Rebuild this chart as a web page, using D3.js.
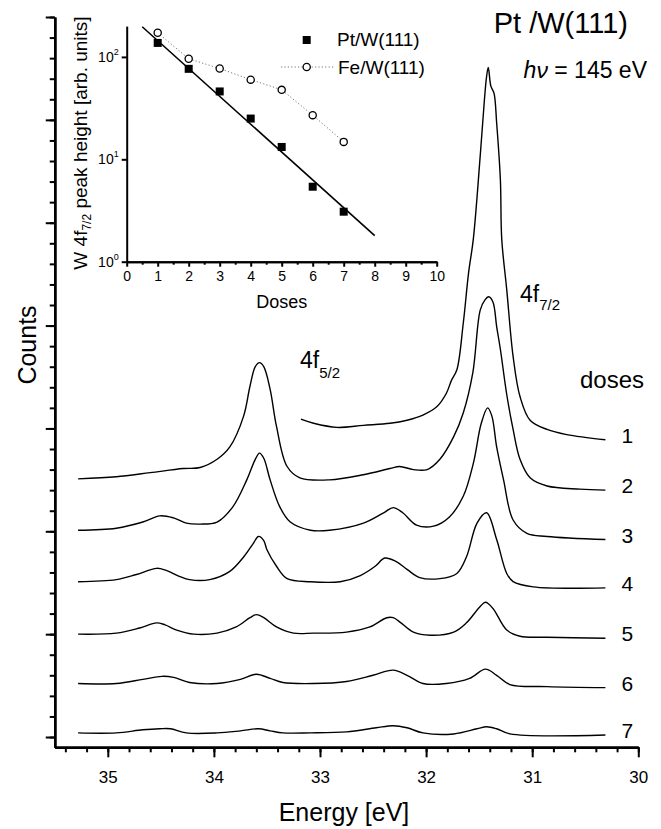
<!DOCTYPE html>
<html>
<head>
<meta charset="utf-8">
<script src="https://cdn.jsdelivr.net/npm/d3@7"></script>
<style>
  body { margin: 0; background: #fff; }
  svg { display: block; font-family: "Liberation Sans", Arial, sans-serif; }
</style>
</head>
<body>
<div id="chart-area"></div>
<script>
// W 4f spectra for Pt doses 1..7, [binding energy eV, counts (offset, arb.)]
const spec1 = [[33.18,3.09],[33.06,3.05],[32.84,3.01],[32.59,3.03],[32.34,3.05],[32.18,3.08],[32.03,3.13],[31.90,3.21],[31.81,3.34],[31.76,3.47],[31.71,3.57],[31.65,4.02],[31.60,4.51],[31.555,4.84],[31.49,5.65],[31.45,6.20],[31.43,6.42],[31.414,6.51],[31.39,6.33],[31.36,6.26],[31.335,5.97],[31.30,5.42],[31.287,4.84],[31.24,4.35],[31.18,3.70],[31.115,3.31],[31.02,3.08],[30.86,2.99],[30.675,2.94],[30.31,2.89]]
const spec2 = [[35.28,2.51],[34.92,2.53],[34.60,2.57],[34.29,2.61],[34.13,2.62],[33.97,2.70],[33.85,2.82],[33.72,3.12],[33.66,3.41],[33.61,3.60],[33.57,3.64],[33.53,3.60],[33.47,3.38],[33.41,3.02],[33.31,2.63],[33.19,2.52],[32.91,2.50],[32.59,2.55],[32.34,2.61],[32.25,2.63],[32.12,2.60],[31.99,2.60],[31.87,2.70],[31.74,2.92],[31.65,3.15],[31.56,3.54],[31.49,4.15],[31.445,4.25],[31.41,4.28],[31.37,4.23],[31.335,3.99],[31.30,3.77],[31.24,3.33],[31.18,2.99],[31.115,2.70],[31.02,2.52],[30.86,2.44],[30.55,2.41],[30.31,2.40]]
const spec3 = [[35.28,2.01],[34.92,2.03],[34.67,2.09],[34.51,2.15],[34.38,2.13],[34.26,2.08],[34.13,2.07],[33.97,2.09],[33.82,2.24],[33.69,2.50],[33.61,2.70],[33.57,2.76],[33.53,2.71],[33.47,2.50],[33.38,2.24],[33.28,2.09],[33.09,2.01],[32.91,2.01],[32.59,2.08],[32.40,2.18],[32.31,2.23],[32.22,2.18],[32.09,2.06],[31.93,2.05],[31.78,2.14],[31.65,2.34],[31.555,2.66],[31.48,3.05],[31.42,3.20],[31.38,3.12],[31.335,2.82],[31.27,2.50],[31.18,2.11],[31.05,1.98],[30.86,1.95],[30.31,1.92]]
const spec4 = [[35.28,1.51],[34.92,1.53],[34.73,1.58],[34.54,1.64],[34.45,1.62],[34.32,1.56],[34.23,1.53],[34.04,1.53],[33.85,1.61],[33.72,1.75],[33.63,1.88],[33.58,1.95],[33.53,1.91],[33.50,1.82],[33.41,1.66],[33.31,1.54],[33.09,1.51],[32.81,1.51],[32.62,1.57],[32.48,1.66],[32.39,1.74],[32.29,1.71],[32.18,1.63],[32.06,1.55],[31.87,1.54],[31.71,1.59],[31.62,1.75],[31.52,2.08],[31.43,2.18],[31.335,1.92],[31.24,1.59],[31.18,1.51],[30.99,1.46],[30.31,1.45]]
const spec5 = [[35.28,1.00],[34.92,1.01],[34.70,1.06],[34.54,1.11],[34.46,1.09],[34.35,1.04],[34.19,1.00],[33.97,1.01],[33.79,1.07],[33.66,1.16],[33.60,1.19],[33.53,1.16],[33.41,1.07],[33.25,1.01],[33.06,1.01],[32.75,1.02],[32.53,1.07],[32.37,1.16],[32.31,1.16],[32.25,1.12],[32.12,1.02],[31.96,0.99],[31.74,1.02],[31.62,1.11],[31.49,1.27],[31.44,1.31],[31.37,1.25],[31.24,1.04],[31.115,0.98],[30.86,0.97],[30.31,0.96]]
const spec6 = [[35.28,0.52],[34.92,0.52],[34.67,0.56],[34.49,0.59],[34.38,0.58],[34.23,0.53],[33.97,0.52],[33.75,0.56],[33.60,0.61],[33.47,0.57],[33.35,0.53],[33.06,0.52],[32.75,0.54],[32.50,0.60],[32.31,0.65],[32.18,0.60],[32.03,0.52],[31.81,0.52],[31.59,0.57],[31.44,0.66],[31.335,0.60],[31.21,0.51],[30.86,0.49],[30.31,0.48]]
const spec7 = [[35.28,0.04],[34.92,0.04],[34.67,0.07],[34.51,0.08],[34.41,0.08],[34.26,0.04],[33.97,0.04],[33.75,0.06],[33.58,0.08],[33.47,0.06],[33.35,0.04],[33.09,0.04],[32.75,0.05],[32.47,0.09],[32.31,0.11],[32.18,0.09],[32.03,0.04],[31.74,0.03],[31.52,0.08],[31.43,0.10],[31.335,0.08],[31.21,0.03],[30.31,0.02]]
const doseLabels = ["1", "2", "3", "4", "5", "6", "7"]
const energyTicks = [35, 34, 33, 32, 31, 30]

// inset: W 4f7/2 peak height vs dose
const doses = [1, 2, 3, 4, 5, 6, 7]
const ptPeak = [137, 76.5, 46, 25, 13.2, 5.4, 3.08]
const fePeak = [172, 96, 77, 60, 47.7, 27, 14.8]
const ptFit = [[0.5, 197], [8, 1.8]]
const insetDoseTicks = [0, 1, 2, 3, 4, 5, 6, 7, 8, 9, 10]
const insetPeakTicks = [1, 10, 100]

const SVG_WIDTH = 661
const SVG_HEIGHT = 829

const svg = d3.select("#chart-area").append("svg")
  .attr("width", SVG_WIDTH)
  .attr("height", SVG_HEIGHT)

svg.append("rect").attr("width", SVG_WIDTH).attr("height", SVG_HEIGHT).attr("fill", "#fff")

const x = d3.scaleLinear().domain([35.5, 30]).range([54.75, 638.3])
const y = d3.scaleLinear().domain([-0.1, 7]).range([747.3, 17])

function styleAxis(g, fontSize) {
  g.select(".domain").attr("stroke", "#000").attr("stroke-width", 2.5)
  g.selectAll(".tick line").attr("stroke", "#000").attr("stroke-width", 2)
  g.selectAll(".tick text")
    .attr("fill", "#000")
    .attr("font-size", fontSize + "px")
    .attr("font-family", "Liberation Sans, Arial, sans-serif")
}

// main x axis
const xMinor = d3.range(0, 28).map(i => 30 + i * 0.2)
svg.append("g")
  .attr("transform", `translate(0, ${y(-0.1)})`)
  .call(d3.axisBottom(x).tickValues(xMinor).tickSize(5).tickSizeOuter(0).tickFormat(""))
  .call(g => styleAxis(g, 17))
svg.append("g")
  .attr("transform", `translate(0, ${y(-0.1)})`)
  .call(d3.axisBottom(x).tickValues(energyTicks).tickSize(10).tickPadding(14).tickSizeOuter(0).tickFormat(d3.format("d")))
  .call(g => styleAxis(g, 17))

// main y axis (no labels)
const yMinor = d3.range(0, 36).map(i => i * 0.2)
svg.append("g")
  .attr("transform", `translate(${x(35.5)}, 0)`)
  .call(d3.axisLeft(y).tickValues(yMinor).tickSize(5).tickSizeOuter(0).tickFormat(""))
  .call(g => styleAxis(g, 17))
svg.append("g")
  .attr("transform", `translate(${x(35.5)}, 0)`)
  .call(d3.axisLeft(y).tickValues(d3.range(0, 8)).tickSize(9).tickSizeOuter(0).tickFormat(""))
  .call(g => styleAxis(g, 17))

svg.append("text")
  .attr("x", 344).attr("y", 821)
  .attr("font-size", "25px").attr("text-anchor", "middle")
  .text("Energy [eV]")

svg.append("text")
  .attr("transform", "translate(36, 345) rotate(-90)")
  .attr("font-size", "25px").attr("text-anchor", "middle")
  .text("Counts")

// spectra
const spectra = [spec1, spec2, spec3, spec4, spec5, spec6, spec7]
const line = d3.line()
  .x(d => x(d[0]))
  .y(d => y(d[1]))
  .curve(d3.curveCatmullRom.alpha(0.5))

svg.selectAll(".spectrum").data(spectra).enter().append("path")
  .attr("class", "spectrum")
  .attr("fill", "none")
  .attr("stroke", "#000")
  .attr("stroke-width", 1.4)
  .attr("stroke-linejoin", "round")
  .attr("d", line)

svg.selectAll(".dose-label").data(spectra).enter().append("text")
  .attr("class", "dose-label")
  .attr("x", d => x(d[d.length - 1][0]) + 22)
  .attr("y", d => y(d[d.length - 1][1]) + 3)
  .attr("font-size", "21px")
  .attr("text-anchor", "middle")
  .text((d, i) => doseLabels[i])

svg.append("text").attr("x", 580).attr("y", 388).attr("font-size", "24px").text("doses")

const f72 = svg.append("text").attr("x", 520).attr("y", 302).attr("font-size", "23px")
f72.append("tspan").text("4f")
f72.append("tspan").attr("font-size", "15px").attr("dy", 8).text("7/2")

const f52 = svg.append("text").attr("x", 300).attr("y", 368).attr("font-size", "23px")
f52.append("tspan").text("4f")
f52.append("tspan").attr("font-size", "15px").attr("dy", 10).text("5/2")

svg.append("text")
  .attr("x", 628).attr("y", 33)
  .attr("font-size", "29px").attr("text-anchor", "end")
  .text("Pt /W(111)")

const hv = svg.append("text")
  .attr("x", 647).attr("y", 78)
  .attr("font-size", "23px").attr("text-anchor", "end")
hv.append("tspan").attr("font-style", "italic").text("hν")
hv.append("tspan").text(" = 145 eV")

// inset
const ix = d3.scaleLinear().domain([0, 10]).range([126.7, 436.7])
const iy = d3.scaleLog().domain([1, 200]).range([261.7, 26.1])

const inset = svg.append("g")

inset.append("g")
  .attr("transform", `translate(0, ${iy(1)})`)
  .call(d3.axisBottom(ix).tickValues(d3.range(0.5, 10, 1)).tickSize(3).tickSizeOuter(0).tickFormat(""))
  .call(g => styleAxis(g, 14))
inset.append("g")
  .attr("transform", `translate(0, ${iy(1)})`)
  .call(d3.axisBottom(ix).tickValues(insetDoseTicks).tickSize(5).tickPadding(4).tickSizeOuter(0).tickFormat(d3.format("d")))
  .call(g => styleAxis(g, 14))
inset.selectAll(".domain").attr("stroke-width", 2)

const yAxisInset = inset.append("g")
  .attr("transform", `translate(${ix(0)}, 0)`)
  .call(d3.axisLeft(iy).tickValues(insetPeakTicks).tickSize(5).tickSizeOuter(0).tickFormat(""))
  .call(g => styleAxis(g, 14))
yAxisInset.select(".domain").attr("stroke-width", 2)

insetPeakTicks.forEach(v => {
  const t = inset.append("text")
    .attr("x", ix(0) - 8).attr("y", iy(v) + 5)
    .attr("font-size", "14px").attr("text-anchor", "end")
  t.append("tspan").text("10")
  t.append("tspan").attr("font-size", "9px").attr("dy", -7).text(Math.round(Math.log10(v)))
})

inset.append("text")
  .attr("x", (ix(0) + ix(10)) / 2).attr("y", 308)
  .attr("font-size", "18px").attr("text-anchor", "middle")
  .text("Doses")

const iyl = inset.append("text")
  .attr("transform", "translate(87, 143) rotate(-90)")
  .attr("font-size", "19px").attr("text-anchor", "middle")
iyl.append("tspan").text("W 4f")
iyl.append("tspan").attr("font-size", "12px").attr("dy", 4).text("7/2")
iyl.append("tspan").attr("dy", -4).text(" peak height [arb. units]")

// fit line
inset.append("path")
  .datum(ptFit)
  .attr("fill", "none").attr("stroke", "#000").attr("stroke-width", 1.6)
  .attr("d", d3.line().x(d => ix(d[0])).y(d => iy(d[1])))

// Fe dotted
const feData = doses.map((d, i) => [d, fePeak[i]])
inset.append("path")
  .datum(feData)
  .attr("fill", "none").attr("stroke", "#777").attr("stroke-width", 1)
  .attr("stroke-dasharray", "1.2,2.2")
  .attr("d", d3.line().x(d => ix(d[0])).y(d => iy(d[1])))
inset.selectAll(".fe").data(feData).enter().append("circle")
  .attr("cx", d => ix(d[0])).attr("cy", d => iy(d[1])).attr("r", 3.6)
  .attr("fill", "#fff").attr("stroke", "#000").attr("stroke-width", 1.3)

const ptData = doses.map((d, i) => [d, ptPeak[i]])
inset.selectAll(".pt").data(ptData).enter().append("rect")
  .attr("x", d => ix(d[0]) - 4).attr("y", d => iy(d[1]) - 4)
  .attr("width", 8).attr("height", 8).attr("fill", "#000")

// legend
inset.append("rect").attr("x", 302.7).attr("y", 36).attr("width", 8).attr("height", 8).attr("fill", "#000")
inset.append("text").attr("x", 337).attr("y", 46).attr("font-size", "19px").text("Pt/W(111)")
inset.append("line").attr("x1", 281).attr("x2", 334).attr("y1", 67).attr("y2", 67)
  .attr("stroke", "#777").attr("stroke-width", 1).attr("stroke-dasharray", "1.2,2.2")
inset.append("circle").attr("cx", 306.7).attr("cy", 67).attr("r", 3.6)
  .attr("fill", "#fff").attr("stroke", "#000").attr("stroke-width", 1.3)
inset.append("text").attr("x", 338).attr("y", 74).attr("font-size", "19px").text("Fe/W(111)")
</script>
</body>
</html>
